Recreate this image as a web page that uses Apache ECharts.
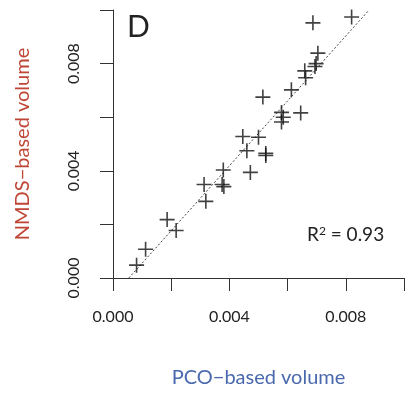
<!DOCTYPE html>
<html><head><meta charset="utf-8">
<script src="https://cdn.jsdelivr.net/npm/echarts@6/dist/echarts.min.js"></script>
<style>html,body{margin:0;padding:0;background:#fff}#c{width:407px;height:393px}</style>
</head><body><div id="c"></div>
<script>
// PCO-based volume (x) and NMDS-based volume (y)
const pcoVolume = [0.00687,0.00820,0.00704,0.00698,0.00694,0.00659,0.00662,0.00515,0.00613,0.00645,
  0.00579,0.00585,0.00579,0.00446,0.00500,0.00460,0.00525,0.00525,0.00472,0.00379,
  0.00313,0.00375,0.00381,0.00319,0.00186,0.00217,0.00112,0.00081];
const nmdsVolume = [0.00952,0.00974,0.00839,0.00800,0.00789,0.00773,0.00747,0.00675,0.00702,0.00616,
  0.00618,0.00600,0.00582,0.00528,0.00525,0.00475,0.00465,0.00457,0.00394,0.00403,
  0.00349,0.00349,0.00341,0.00286,0.00218,0.00177,0.00107,0.00048];
// fitted line endpoints (x, y)
const fitX = [0.000544, 0.0088];
const fitY = [0.000, 0.010];
const axisTicks = [0.000, 0.002, 0.004, 0.006, 0.008, 0.010];
const labelledTicks = ['0.000', '0.004', '0.008'];
const panelLabel = 'D';
const r2Value = '0.93';

const font = 'Lato';
const chart = echarts.init(document.getElementById('c'));
const fmt = v => { const s = v.toFixed(3); return labelledTicks.includes(s) ? s : ''; };
const axisCommon = {
  min: axisTicks[0], max: axisTicks[axisTicks.length-1], interval: axisTicks[1]-axisTicks[0],
  splitLine: {show:false},
  axisLine: {show:true, lineStyle:{color:'#333', width:1}},
  axisTick: {show:true, length:13, lineStyle:{color:'#333', width:1}},
};
chart.setOption({
  animation:false,
  backgroundColor:'#fff',
  grid:{left:113, right:0, top:10, bottom:104, containLabel:false},
  xAxis: Object.assign({}, axisCommon, {
    type:'value',
    name:'PCO\u2212based volume', nameLocation:'middle', nameGap:90,
    nameTextStyle:{color:'#4a68ad', fontSize:20, fontFamily:font},
    axisLabel:{formatter:fmt, margin:31, fontSize:16, color:'#222', fontFamily:font, showMaxLabel:true}
  }),
  yAxis: Object.assign({}, axisCommon, {
    type:'value',
    name:'NMDS\u2212based volume', nameLocation:'middle', nameGap:80, nameRotate:90,
    nameTextStyle:{color:'#bf4535', fontSize:20, fontFamily:font},
    axisLabel:{formatter:fmt, margin:31, fontSize:16, color:'#222', fontFamily:font, rotate:90}
  }),
  series:[
    {type:'line', data: fitX.map((x,i)=>[x, fitY[i]]), symbol:'none', silent:true,
     lineStyle:{color:'#444', width:1, type:[2,2]}, z:1},
    {type:'scatter', data: pcoVolume.map((x,i)=>[x, nmdsVolume[i]]),
     symbol:'path://M7,0L7,14M0,7L14,7', symbolSize:15,
     itemStyle:{color:'transparent', borderColor:'#111', borderWidth:1.6}, z:2}
  ],
  graphic:[
    {type:'text', left:127, top:12, style:{text:panelLabel, fontSize:30, fontFamily:font, fill:'#222'}},
    {type:'text', left:307, top:225, style:{text:'R{s|2} = '+r2Value, fontSize:19, fontFamily:font, fill:'#222',
      rich:{s:{fontSize:12, verticalAlign:'top', lineHeight:12, padding:[0,0,12,0], fontFamily:font, fill:'#222'}}}}
  ]
});
</script></body></html>
